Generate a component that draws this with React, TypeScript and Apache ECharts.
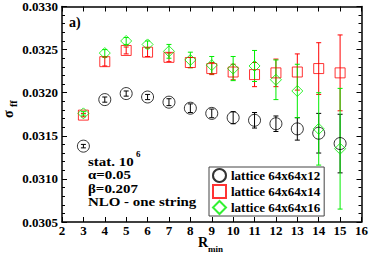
import React, { useEffect, useRef } from "react";
import * as echarts from "echarts";

const rMin = [3, 4, 5, 6, 7, 8, 9, 10, 11, 12, 13, 14, 15];
const xTicks = { min: 2, max: 16, step: 1 };
const yTicks = { min: 0.0305, max: 0.033, step: 0.0005 };

const names = ["lattice 64x64x12", "lattice 64x64x14", "lattice 64x64x16"];

const s12 = [0.03138, 0.03192, 0.03199, 0.03195, 0.03189, 0.03182, 0.03176, 0.03171, 0.03168, 0.03164, 0.03158, 0.03153, 0.03141];
const e12 = [0.00002, 0.00003, 0.00003, 0.00003, 0.00004, 0.00005, 0.00005, 0.00007, 0.00009, 0.00009, 0.00013, 0.00023, 0.00034];
const s14 = [0.03174, 0.03236, 0.03249, 0.03247, 0.03241, 0.03235, 0.03228, 0.03224, 0.03221, 0.03223, 0.03224, 0.03228, 0.03223];
const e14 = [0.00002, 0.00005, 0.00004, 0.00005, 0.00005, 0.00006, 0.00007, 0.00009, 0.00014, 0.00016, 0.00021, 0.0003, 0.00044];
const s16 = [0.03176, 0.03246, 0.0326, 0.03256, 0.03248, 0.03238, 0.03232, 0.03228, 0.03231, 0.03215, 0.03202, 0.03158, 0.03135];
const e16 = [0.00002, 0.00004, 0.00004, 0.00004, 0.00008, 0.00009, 0.0001, 0.00014, 0.00018, 0.00023, 0.00031, 0.00042, 0.0007];

const notes = ["stat. 10", "\u03b1=0.05", "\u03b2=0.207", "NLO - one string"];

export default function App() {
  const ref = useRef<HTMLDivElement>(null);
  useEffect(() => {
    document.body.style.margin = "0";
    const chart = echarts.init(ref.current!, null, { renderer: "svg" });
    const font = "Liberation Serif";
    const colors = ["#000000", "#ff0000", "#00ee00"];
    const vals = [s12, s14, s16];
    const errs = [e12, e14, e16];
    const symbols = ["circle", "rect", "diamond"];
    const sizes = [12, 10, 11];

    const axisLine = { show: true, onZero: false, lineStyle: { color: "#000", width: 1.5 } };
    const tick = { show: true, inside: true, length: 5, lineStyle: { color: "#000", width: 1 } };
    const label = { fontFamily: font, fontWeight: "bold" as const, fontSize: 13, color: "#000" };

    const errSeries = vals.map((v, k) => ({
      type: "custom",
      z: 2,
      data: rMin.map((x, i) => [x, v[i], errs[k][i]]),
      encode: { x: 0, y: 1 },
      renderItem: (params: any, api: any) => {
        const x = api.value(0);
        const y = api.value(1);
        const e = api.value(2);
        const top = api.coord([x, y + e]);
        const bot = api.coord([x, y - e]);
        const w = 2.5;
        const st = { stroke: colors[k], lineWidth: 1 };
        return {
          type: "group",
          children: [
            { type: "line", shape: { x1: top[0], y1: top[1], x2: bot[0], y2: bot[1] }, style: st },
            { type: "line", shape: { x1: top[0] - w, y1: top[1], x2: top[0] + w, y2: top[1] }, style: st },
            { type: "line", shape: { x1: bot[0] - w, y1: bot[1], x2: bot[0] + w, y2: bot[1] }, style: st },
          ],
        };
      },
    }));

    const scatter = vals.map((v, k) => ({
      type: "scatter",
      name: names[k],
      z: 3,
      symbol: symbols[k],
      symbolSize: sizes[k],
      data: rMin.map((x, i) => [x, v[i]]),
      itemStyle: { color: "transparent", borderColor: colors[k], borderWidth: 1 },
    }));

    const txt = (t: string, x: number, y: number, size: number, extra: any = {}, lh?: number) => ({
      type: "text",
      x,
      y,
      ...extra,
      style: {
        text: t,
        fontFamily: font,
        fontWeight: "bold",
        fontSize: size,
        lineHeight: lh ?? size,
        fill: "#000",
        verticalAlign: "middle",
      },
    });
    const wide = { scaleX: 1.15 };

    chart.setOption({
      animation: false,
      backgroundColor: "#fff",
      grid: { left: 62, right: 9, top: 6, bottom: 33 },
      xAxis: [
        {
          type: "value",
          position: "bottom",
          min: xTicks.min,
          max: xTicks.max,
          interval: xTicks.step,
          axisLine,
          axisTick: tick,
          axisLabel: { ...label, margin: 2 },
          splitLine: { show: false },
        },
        {
          type: "value",
          position: "top",
          min: xTicks.min,
          max: xTicks.max,
          interval: xTicks.step,
          axisLine,
          axisTick: tick,
          axisLabel: { show: false },
          splitLine: { show: false },
        },
      ],
      yAxis: [
        {
          type: "value",
          position: "left",
          min: yTicks.min,
          max: yTicks.max,
          interval: yTicks.step,
          axisLine,
          axisTick: tick,
          minorTick: { show: true, splitNumber: 5, length: 3, lineStyle: { color: "#000" } },
          axisLabel: { ...label, margin: 4, formatter: (v: number) => v.toFixed(4) },
          splitLine: { show: false },
        },
        {
          type: "value",
          position: "right",
          min: yTicks.min,
          max: yTicks.max,
          interval: yTicks.step,
          axisLine,
          axisTick: tick,
          minorTick: { show: true, splitNumber: 5, length: 3, lineStyle: { color: "#000" } },
          axisLabel: { show: false },
          splitLine: { show: false },
        },
      ],
      legend: {
        data: names,
        orient: "vertical",
        left: 209,
        top: 167,
        itemWidth: 13,
        itemHeight: 13,
        itemGap: 1,
        padding: [1, 4, 1, 3],
        borderColor: "#444",
        borderWidth: 1,
        backgroundColor: "#fff",
        selectedMode: false,
        textStyle: { ...label },
      },
      graphic: [
        txt("a)", 69, 22, 14),
        txt(notes[0], 88, 162, 13, wide, 11),
        txt("6", 136, 154, 9),
        txt(notes[1], 88, 175, 13, wide, 11),
        txt(notes[2], 88, 189, 13, wide, 11),
        txt(notes[3], 88, 202, 13, wide, 11),
        txt("R", 198, 242, 14),
        txt("min", 208, 249, 9),
        txt("\u03c3", 8, 118, 14, { rotation: Math.PI / 2 }),
        txt("ff", 13, 107, 10, { rotation: Math.PI / 2 }),
      ],
      series: [...errSeries, ...scatter],
    });
    return () => chart.dispose();
  }, []);
  return <div ref={ref} style={{ width: 371, height: 255, position: "absolute", left: 0, top: 0 }} />;
}
